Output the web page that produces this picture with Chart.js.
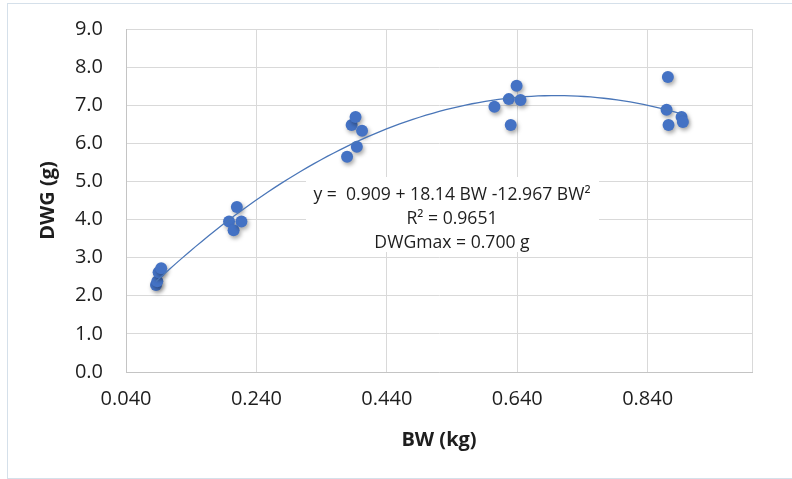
<!DOCTYPE html>
<html>
<head>
<meta charset="utf-8">
<script src="https://cdn.jsdelivr.net/npm/chart.js@4"></script>
<style>
  html, body { margin: 0; padding: 0; background: #fff; }
  #wrap { position: relative; width: 792px; height: 479px; overflow: hidden; }
  #frame { position: absolute; left: 7px; top: 3px; width: 800px; height: 474px; border: 1px solid #d5e0ea; }
  #chart { position: absolute; left: 0; top: 0; }
</style>
</head>
<body>
<div id="wrap">
  <div id="frame"></div>
  <canvas id="chart" width="792" height="479"></canvas>
</div>
<script>
// body weight (kg) and daily weight gain (g)
const bw  = [0.086, 0.088, 0.090, 0.094,
             0.198, 0.205, 0.210, 0.217,
             0.379, 0.386, 0.392, 0.394, 0.402,
             0.605, 0.627, 0.630, 0.639, 0.645,
             0.869, 0.871, 0.872, 0.892, 0.894];
const dwg = [2.28, 2.38, 2.62, 2.72,
             3.95, 3.72, 4.33, 3.95,
             5.65, 6.48, 6.69, 5.91, 6.33,
             6.96, 7.16, 6.48, 7.51, 7.14,
             6.88, 7.74, 6.48, 6.69, 6.56];

// polynomial trendline y = a + b*BW + c*BW^2
const coef = [0.909, 18.14, -12.967];
const eqLines = ['y =  0.909 + 18.14 BW -12.967 BW\u00B2', 'R\u00B2 = 0.9651', 'DWGmax = 0.700 g'];

const xTicks  = [0.04, 0.24, 0.44, 0.64, 0.84, 1.0];
const xLabels = ['0.040', '0.240', '0.440', '0.640', '0.840', ''];

const blue = '#4472C4';
const font = 'Open Sans';
const ink = '#1e1e1e';

const xMin = Math.min(...bw), xMax = Math.max(...bw);
const trend = [];
for (let i = 0; i <= 80; i++) {
  const x = xMin + (xMax - xMin) * i / 80;
  trend.push({ x: x, y: coef[0] + coef[1] * x + coef[2] * x * x });
}

const shadow = {
  id: 'shadow',
  beforeDatasetDraw(chart, args) {
    if (args.index !== 1) return;
    const ctx = chart.ctx;
    ctx.save();
    ctx.shadowColor = 'rgba(0,0,0,0.35)';
    ctx.shadowBlur = 4;
    ctx.shadowOffsetX = 1.5;
    ctx.shadowOffsetY = 2.5;
  },
  afterDatasetDraw(chart, args) {
    if (args.index === 1) chart.ctx.restore();
  }
};

const eqBox = {
  id: 'eqBox',
  beforeDatasetsDraw(chart) {
    const ctx = chart.ctx;
    ctx.save();
    ctx.fillStyle = '#fff';
    ctx.fillRect(306, 177, 293, 75);
    ctx.fillStyle = ink;
    ctx.font = '17.6px "' + font + '"';
    ctx.textAlign = 'center';
    ctx.textBaseline = 'middle';
    eqLines.forEach((t, i) => ctx.fillText(t, 452, 195 + i * 24));
    ctx.restore();
  }
};

new Chart(document.getElementById('chart'), {
  type: 'scatter',
  data: {
    datasets: [{
      data: trend,
      showLine: true,
      borderColor: '#4a76b8',
      borderWidth: 1.3,
      pointRadius: 0,
      tension: 0
    }, {
      data: bw.map((x, i) => ({ x: x, y: dwg[i] })),
      backgroundColor: blue,
      borderColor: blue,
      pointRadius: 6,
      borderWidth: 0
    }]
  },
  options: {
    responsive: false,
    animation: false,
    layout: { padding: { left: 0, top: 29, right: 40, bottom: 0 } },
    plugins: { legend: { display: false }, tooltip: { enabled: false } },
    scales: {
      x: {
        type: 'linear',
        min: 0.04,
        max: 1.0,
        afterBuildTicks(scale) { scale.ticks = xTicks.map(v => ({ value: v })); },
        afterFit(scale) { scale.height = 107; scale.paddingLeft = 0; scale.paddingRight = 0; },
        ticks: {
          padding: 15,
          color: ink,
          font: { family: font, size: 20 },
          callback: (v, i) => xLabels[i]
        },
        grid: { color: '#d9d9d9', drawTicks: false },
        border: { color: '#c4c4c4' },
        title: {
          display: true,
          text: 'BW (kg)',
          color: ink,
          font: { family: font, size: 20, weight: 'bold' },
          padding: { top: 0, bottom: 27 }
        }
      },
      y: {
        min: 0,
        max: 9,
        afterFit(scale) { scale.width = 126; scale.paddingTop = 0; scale.paddingBottom = 0; },
        ticks: {
          stepSize: 1,
          padding: 23,
          color: ink,
          font: { family: font, size: 20 },
          callback: v => v.toFixed(1)
        },
        grid: { color: '#d9d9d9', drawTicks: false },
        border: { color: '#c4c4c4' },
        title: {
          display: true,
          text: 'DWG (g)',
          color: ink,
          font: { family: font, size: 20, weight: 'bold' },
          padding: { top: 36, bottom: 0 }
        }
      }
    }
  },
  plugins: [shadow, eqBox]
});
</script>
</body>
</html>
